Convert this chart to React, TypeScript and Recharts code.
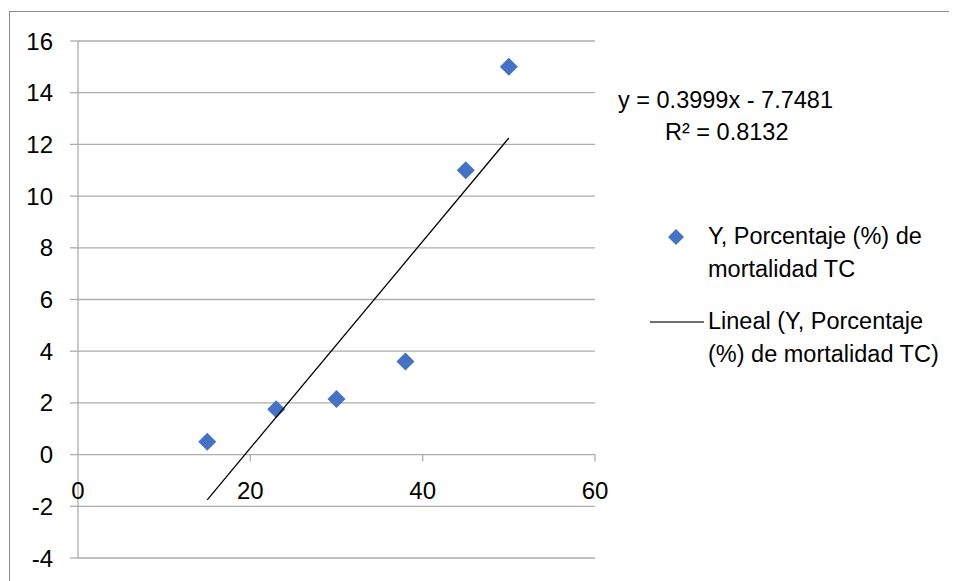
import {
  ScatterChart,
  Scatter,
  XAxis,
  YAxis,
  CartesianGrid,
  Legend,
} from "recharts";

// observed points
const xValues = [15, 23, 30, 38, 45, 50];
const yValues = [0.5, 1.75, 2.15, 3.6, 11, 15];

// linear fit reported for the series
const slope = 0.3999;
const intercept = -7.7481;
const rSquared = 0.8132;
const fitRange = [15, 50];

const xTicks = [0, 20, 40, 60];
const yTicks = [-4, -2, 0, 2, 4, 6, 8, 10, 12, 14, 16];

const seriesName = "Y, Porcentaje (%) de mortalidad TC";

const points = xValues.map((x, i) => ({ x, y: yValues[i] }));
const trend = fitRange.map((x) => ({ x, y: slope * x + intercept }));

const FONT = "'Liberation Sans', Arial, sans-serif";
const GRID = "#adadad";
const BLUE = "#4472c4";

const W = 949;
const H = 573;
const X_AXIS_H = 23;
const M = { top: 33, right: 362, bottom: 0, left: 0 };
const PLOT_H = H - M.top - M.bottom - X_AXIS_H;
const Y_MIN = -4;
const Y_MAX = 16;
// the x axis crosses at y = 0, not at the bottom of the plot
const ZERO_SHIFT = (PLOT_H * (0 - Y_MIN)) / (Y_MAX - Y_MIN);

const Diamond = ({ cx, cy }: any) => (
  <polygon
    points={`${cx},${cy - 9} ${cx + 9},${cy} ${cx},${cy + 9} ${cx - 9},${cy}`}
    fill={BLUE}
  />
);

const XTick = ({ x, y, payload }: any) => {
  const zy = y - ZERO_SHIFT;
  return (
    <g>
      {payload.value !== 0 && (
        <line x1={x} x2={x} y1={zy} y2={zy + 7} stroke={GRID} strokeWidth={1.3} />
      )}
      <text
        x={x}
        y={zy + 36}
        textAnchor="middle"
        dominantBaseline="central"
        fontSize={24}
        fontFamily={FONT}
        fill="#000"
      >
        {payload.value}
      </text>
    </g>
  );
};

const LegendBox = () => (
  <div
    style={{
      position: "relative",
      fontFamily: FONT,
      fontSize: 23.5,
      lineHeight: "33px",
      color: "#000",
      width: 320,
      height: 160,
    }}
  >
    <svg
      width={20}
      height={20}
      style={{ position: "absolute", left: 28, top: 10 }}
    >
      <polygon points="10,2 18,10 10,18 2,10" fill={BLUE} />
    </svg>
    <div style={{ position: "absolute", left: 70, top: 3 }}>
      Y, Porcentaje (%) de
      <br />
      mortalidad TC
    </div>
    <svg
      width={54}
      height={4}
      style={{ position: "absolute", left: 12, top: 103 }}
    >
      <line x1={0} x2={54} y1={2} y2={2} stroke="#404040" strokeWidth={1.5} />
    </svg>
    <div style={{ position: "absolute", left: 70, top: 88 }}>
      Lineal (Y, Porcentaje
      <br />
      (%) de mortalidad TC)
    </div>
  </div>
);

export default function App() {
  return (
    <div style={{ position: "relative", width: W, height: H }}>
      <div
        style={{
          position: "absolute",
          left: 1,
          top: 3,
          width: 946,
          height: 600,
          border: "1.5px solid #8c8c8c",
          boxSizing: "border-box",
        }}
      />
      <ScatterChart width={W} height={H} margin={M}>
        <CartesianGrid vertical={false} stroke={GRID} strokeWidth={1.3} />
        <XAxis
          type="number"
          dataKey="x"
          domain={[0, 60]}
          ticks={xTicks}
          height={X_AXIS_H}
          axisLine={false}
          tickLine={false}
          tickSize={0}
          tickMargin={0}
          tick={<XTick />}
          interval={0}
        />
        <YAxis
          type="number"
          dataKey="y"
          domain={[Y_MIN, Y_MAX]}
          ticks={yTicks}
          width={70}
          interval={0}
          axisLine={{ stroke: GRID, strokeWidth: 1.3 }}
          tickLine={{ stroke: GRID, strokeWidth: 1.3 }}
          tickSize={8}
          tickMargin={17}
          tick={{ fill: "#000", fontSize: 24, fontFamily: FONT }}
        />
        <Scatter
          name={seriesName}
          data={points}
          shape={<Diamond />}
          isAnimationActive={false}
        />
        <Scatter
          name={`Lineal (${seriesName})`}
          data={trend}
          line={{ stroke: "#000", strokeWidth: 1.3 }}
          shape={() => <g />}
          isAnimationActive={false}
        />
        <Legend
          layout="horizontal"
          verticalAlign="middle"
          align="center"
          wrapperStyle={{ left: 630, top: 209, width: 320 }}
          content={() => <LegendBox />}
        />
      </ScatterChart>
      <div
        style={{
          position: "absolute",
          left: 610,
          top: 76,
          fontFamily: FONT,
          fontSize: 23.5,
          lineHeight: "32px",
          color: "#000",
          whiteSpace: "nowrap",
        }}
      >
        y = {slope}x - {Math.abs(intercept)}
        <br />
        <span style={{ marginLeft: 47 }}>
          R² = {rSquared}
        </span>
      </div>
    </div>
  );
}
